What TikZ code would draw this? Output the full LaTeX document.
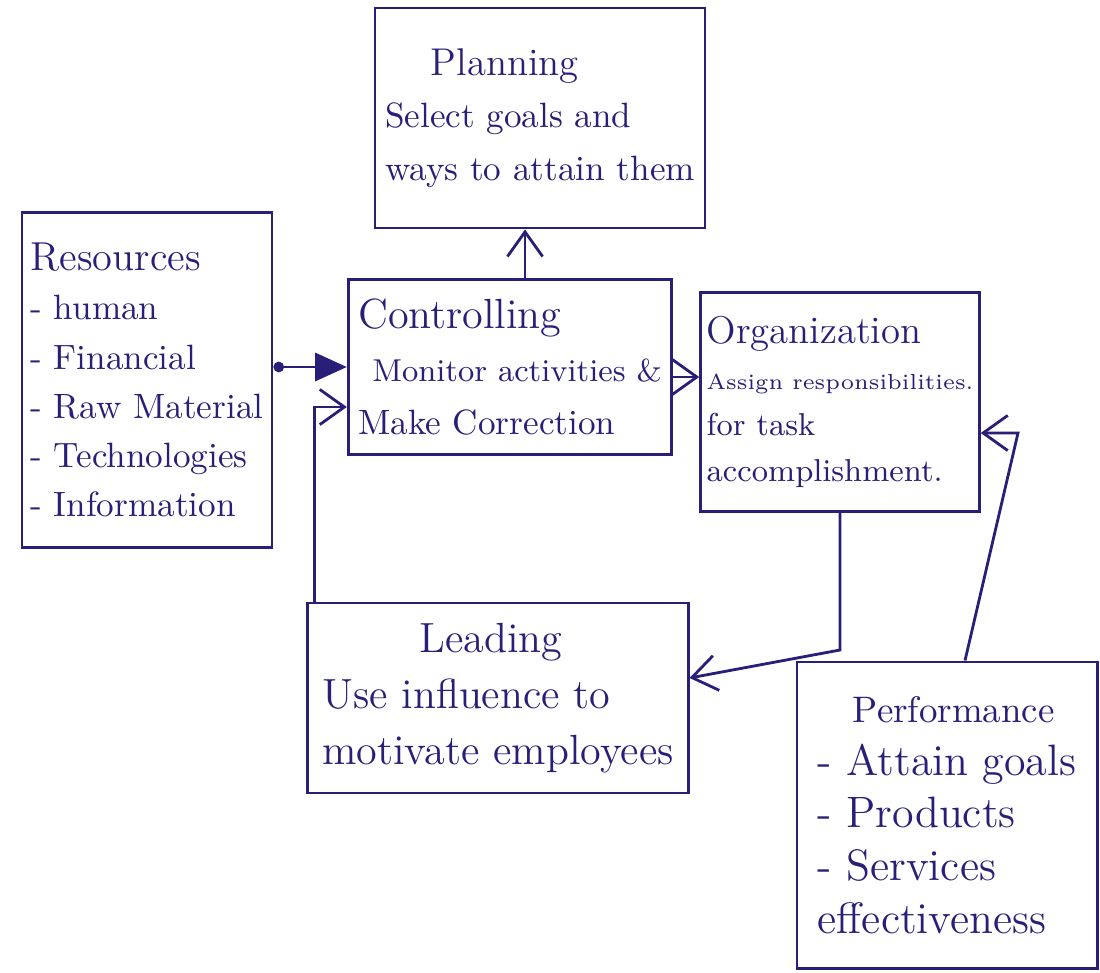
\documentclass[tikz,border=0pt]{standalone}
\usepackage{tikz}
\usetikzlibrary{arrows.meta,calc}
\definecolor{ink}{RGB}{40,32,120}
\newcommand{\boxtitle}[2][12]{{\fontsize{#1}{15}\selectfont #2}}

\begin{document}
\begin{tikzpicture}[x=0.01cm,y=-0.01cm,
  box/.style={draw=ink,text=ink,line width=0.8pt,inner sep=0.1cm,align=left,font=\fontsize{10}{15}\selectfont},
  flow/.style={draw=ink,line width=0.8pt,-{Straight Barb[length=7pt,width=10pt]}}]
  \useasboundingbox (0,0) rectangle (1100,973);
  \node[box,minimum width=3.29cm,minimum height=2.2cm] (plan) at (540,118)
    {\hspace*{1.3em}\boxtitle[11]{Planning}\\ Select goals and\\ ways to attain them};
  \node[box,minimum width=2.5cm,minimum height=3.35cm,inner sep=0.07cm,font=\fontsize{10}{14}\selectfont] (res) at (147,380)
    {\boxtitle[11.5]{Resources}\\ -~human\\ -~Financial\\ -~Raw Material\\ -~Technologies\\ -~Information};
  \node[box,minimum width=3.2cm,minimum height=1.75cm] (ctrl) at (510,367)
    {\boxtitle{Controlling}\\ \hspace*{0.4em}{\fontsize{9}{15}\selectfont Monitor activities \&}\\ Make Correction};
  \node[box,minimum width=2.7cm,minimum height=2.19cm,inner sep=0.06cm,font=\fontsize{9}{13}\selectfont] (org) at (840,402)
    {\boxtitle[11]{Organization}\\ {\fontsize{6.2}{13}\selectfont Assign responsibilities.}\\ for task\\ accomplishment.};
  \node[box,minimum width=3.8cm,minimum height=1.9cm,font=\fontsize{12}{16}\selectfont] (lead) at (498,698)
    {\hspace*{2.3em}Leading\\ Use influence to\\ motivate employees};
  \node[box,minimum width=3.0cm,minimum height=3.06cm,font=\fontsize{12.5}{15}\selectfont] (perf) at (947,815)
    {\hspace*{0.8em}\boxtitle[10.5]{Performance}\\ -~Attain goals\\ -~Products\\ -~Services\\ effectiveness};
  \coordinate (turn1) at (835,650);
  \coordinate (turn2) at (1018,433);
  % connectors
  \draw[flow,{Circle[length=3pt]}-{Triangle[length=9pt,width=8pt]}] (res.east |- ctrl.west) -- (ctrl.west);
  \draw[flow] ([xshift=0.15cm]ctrl.north) coordinate (c1) -- (c1 |- plan.south);
  \draw[flow] ([yshift=-0.1cm]ctrl.east) coordinate (c2) -- (c2 -| org.west);
  \draw[flow] (org.south) -- (org.south |- turn1) -- ([yshift=0.2cm]lead.east);
  \draw[flow] ([xshift=0.08cm]lead.north west) |- ([yshift=-0.4cm]ctrl.west);
  \draw[flow] ([xshift=0.18cm]perf.north) -- (turn2) -- (turn2 -| org.east);
\end{tikzpicture}
\end{document}
